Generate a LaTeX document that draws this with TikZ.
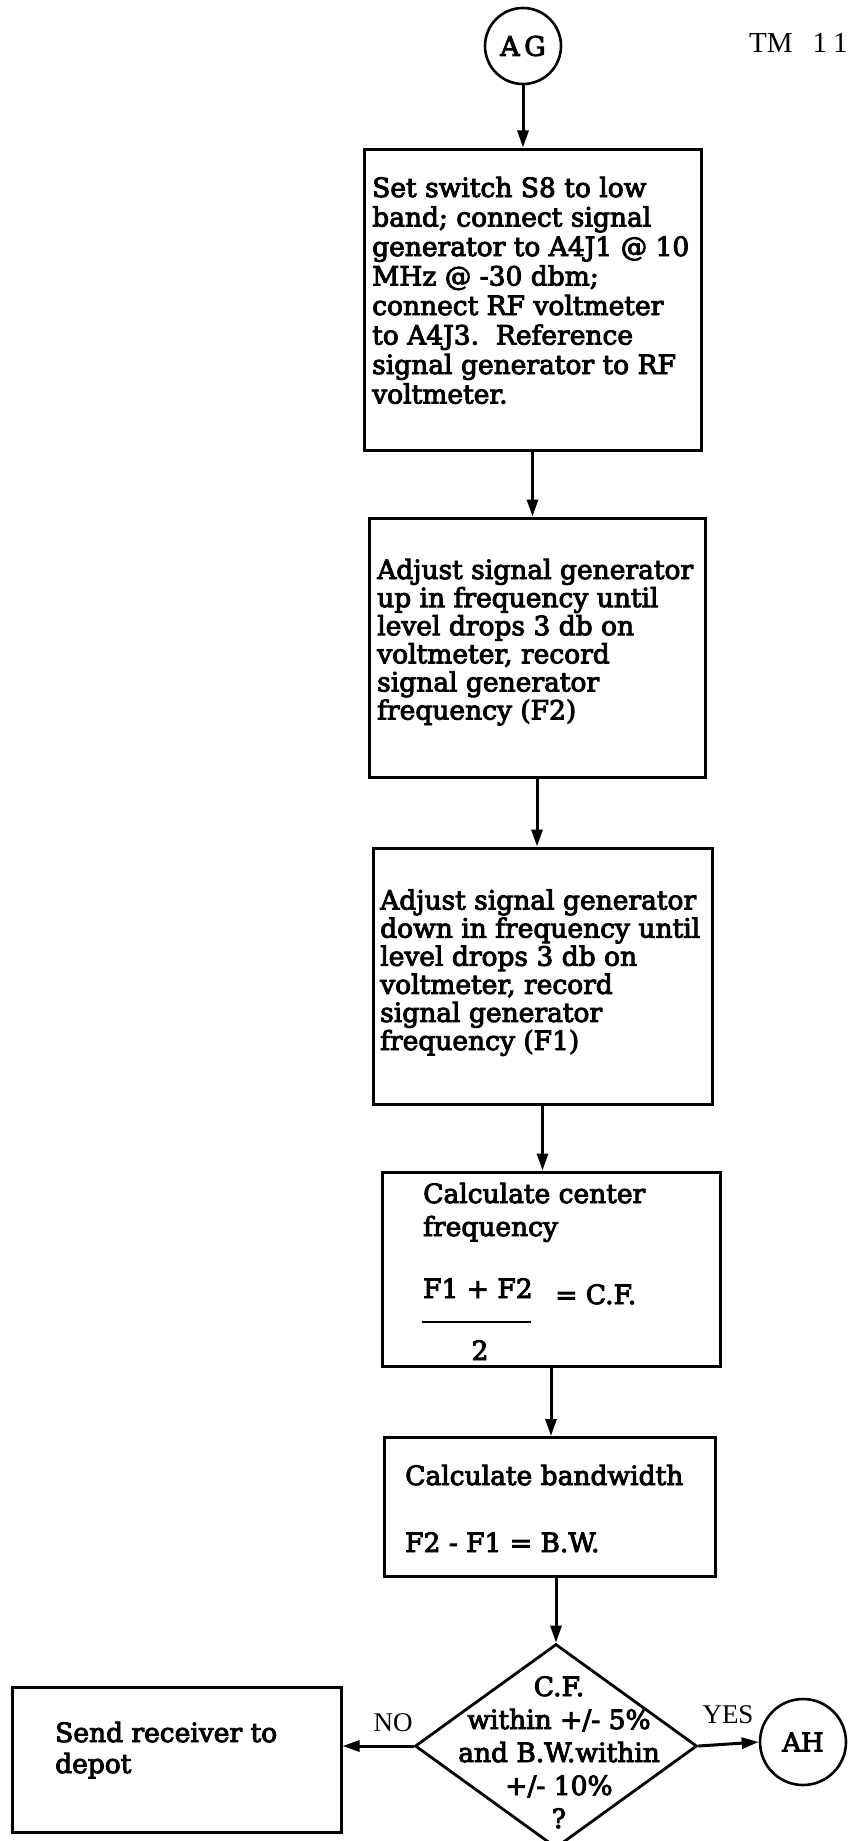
\documentclass[tikz,border=0pt]{standalone}
\usepackage{fontspec}
\setmainfont{DejaVu Serif}[FakeBold=3.5]
\newfontfamily\tmfont{Liberation Serif}
\usetikzlibrary{arrows.meta,shapes.geometric}

\begin{document}
\begin{tikzpicture}[x=1pt,y=-1pt,
  box/.style={draw,line width=3pt,inner sep=0pt},
  circ/.style={draw,circle,line width=2.6pt,inner sep=0pt,minimum size=76pt},
  decision/.style={draw,diamond,line width=2.8pt,inner sep=0pt,minimum width=282pt,minimum height=204pt},
  txt/.style={anchor=base west,align=left,inner sep=0pt,font=\fontsize{26.5}{28.1}\selectfont},
  lbl/.style={inner sep=0pt,font=\tmfont\fontsize{27}{27}\selectfont},
  flow/.style={line width=3pt,-{Triangle[length=17pt,width=11pt]}}]
\path[use as bounding box,fill=white] (0,0) rectangle (849,1841);

\node[circ,font=\fontsize{27}{27}\selectfont] (ag) at (523,46) {A\,G};
\node[lbl,anchor=west,font=\tmfont\fontsize{29}{29}\selectfont] (tm) at (749,43) {TM\hspace{20pt}1\kern6pt1};

\node[box,minimum width=337pt,minimum height=301pt] (b1) at (532.5,299.5) {};
\node[txt,font=\fontsize{26.5}{29.5}\selectfont] (t1) at (372,403.5) {Set switch S8 to low\\band; connect signal\\generator to A4J1 @ 10\\MHz @ -30 dbm;\\connect RF voltmeter\\to A4J3.\ \ Reference\\signal generator to RF\\voltmeter.};

\node[box,minimum width=336pt,minimum height=259pt] (b2) at (537,647.5) {};
\node[txt] (t2) at (377,719.5) {Adjust signal generator\\up in frequency until\\level drops 3 db on\\voltmeter, record\\signal generator\\frequency (F2)};

\node[box,minimum width=339pt,minimum height=256pt] (b3) at (542.5,976) {};
\node[txt] (t3) at (380,1050) {Adjust signal generator\\down in frequency until\\level drops 3 db on\\voltmeter, record\\signal generator\\frequency (F1)};

\node[box,minimum width=338pt,minimum height=194pt] (b4) at (551,1269) {};
\node[txt,font=\fontsize{26.5}{33}\selectfont] (t4) at (423,1236) {Calculate center\\frequency};
\node[txt] (num) at (423,1298) {F1 + F2};
\draw[line width=2pt] (422,1322) -- (531,1322);
\node[txt,anchor=base] (den) at (480,1360) {2};
\node[txt] (cf) at (555,1304) {= C.F.};

\node[box,minimum width=331pt,minimum height=139pt] (b5) at (549.5,1507) {};
\node[txt] (t5) at (405,1552) {Calculate bandwidth\\[38.9pt]F2 - F1 = B.W.};

\node[decision] (dec) at (556,1746) {};
\node[txt,anchor=base,align=center,font=\fontsize{26.5}{33}\selectfont] (dt) at (559,1828) {C.F.\\within +/- 5\%\\and B.W.within\\+/- 10\%\\?};

\node[box,minimum width=329pt,minimum height=145pt] (send) at (176.5,1759.5) {};
\node[txt,font=\fontsize{26.5}{31}\selectfont] (ts) at (55,1773) {Send receiver to\\depot};

\node[circ,minimum size=86pt,font=\fontsize{26}{26}\selectfont] (ah) at (803,1742) {AH};
\node[lbl] (no) at (393,1723) {NO};
\node[lbl] (yes) at (728,1715) {YES};

\draw[flow] (ag.south) -- (ag.south |- b1.north);
\draw[flow] (b1.south) -- (b1.south |- b2.north);
\draw[flow] (b2.south) -- (b2.south |- b3.north);
\draw[flow] (b3.south) -- (b3.south |- b4.north);
\draw[flow] (b4.south) -- (b4.south |- b5.north);
\draw[flow] (dec.north |- b5.south) -- (dec.north);
\draw[flow] (dec.west) -- (dec.west -| send.east);
\draw[flow] (dec.east) -- (ah.west);
\end{tikzpicture}
\end{document}
